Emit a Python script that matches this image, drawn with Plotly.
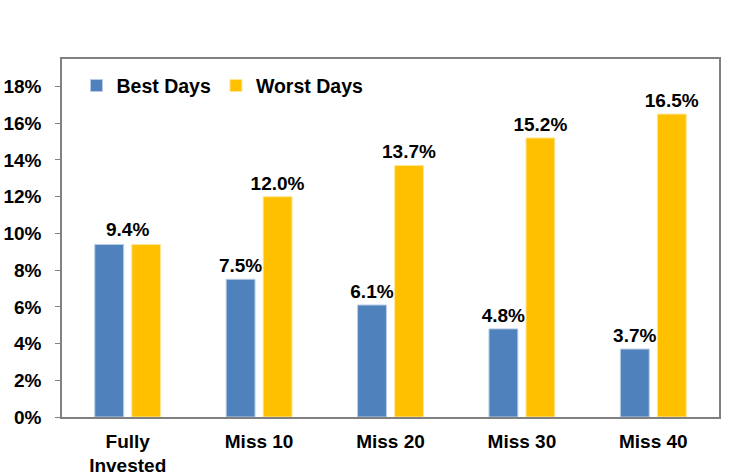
import plotly.graph_objects as go

categories = ["Fully<br>Invested", "Miss 10", "Miss 20", "Miss 30", "Miss 40"]
best_days = [9.4, 7.5, 6.1, 4.8, 3.7]
worst_days = [9.4, 12.0, 13.7, 15.2, 16.5]
y_ticks = [0, 2, 4, 6, 8, 10, 12, 14, 16, 18]

blue = "#4F81BD"
gold = "#FFC000"
font = "Liberation Sans, Arial, sans-serif"
fsize = 19

# the first group shares one label, so its bar texts are left empty
best_text = [""] + [f"{v:.1f}%" for v in best_days[1:]]
worst_text = [""] + [f"{v:.1f}%" for v in worst_days[1:]]

fig = go.Figure()
fig.add_trace(go.Bar(
    x=categories, y=best_days, name="Best Days",
    marker=dict(color=blue, line=dict(color="#B8CCE4", width=1)),
    text=best_text, textposition="outside", cliponaxis=False, constraintext="none",
    textfont=dict(family=font, size=fsize, color="black", weight="bold")))
fig.add_trace(go.Bar(
    x=categories, y=worst_days, name="Worst Days",
    marker=dict(color=gold, line=dict(color="#FFE699", width=1)),
    text=worst_text, textposition="outside", cliponaxis=False, constraintext="none",
    textfont=dict(family=font, size=fsize, color="black", weight="bold")))

fig.add_annotation(
    x=categories[0], y=best_days[0], text=f"<b>{best_days[0]:.1f}%</b>",
    showarrow=False, yanchor="bottom", yshift=2,
    font=dict(family=font, size=fsize, color="black"))

fig.update_layout(
    width=732, height=476,
    margin=dict(l=62, r=13, t=59, b=59),
    paper_bgcolor="white", plot_bgcolor="white",
    barmode="group", bargap=0.437, bargroupgap=0.22,
    font=dict(family=font, size=fsize, color="black", weight="bold"),
    legend=dict(orientation="h", x=0.022, y=0.925, xanchor="left", yanchor="middle",
                font=dict(family=font, size=19.5, color="black", weight="bold"),
                bgcolor="rgba(0,0,0,0)"),
    showlegend=True,
)
fig.update_xaxes(showline=True, linecolor="#808080", linewidth=1.5, mirror=True,
                 showgrid=False, ticks="", automargin=False, ticklabelstandoff=6,
                 tickfont=dict(size=fsize, weight="bold"))
fig.update_yaxes(range=[0, 19.5], tickvals=y_ticks,
                 ticktext=[f"{t}%" for t in y_ticks],
                 showline=True, linecolor="#808080", linewidth=1.5, mirror=True,
                 showgrid=False, ticks="outside", ticklen=5, tickcolor="#808080",
                 automargin=False, ticklabelstandoff=10,
                 tickfont=dict(size=fsize, weight="bold"), zeroline=False)

fig.write_html("out.html", config={"displayModeBar": False},
               post_script="document.body.style.margin='0';")
